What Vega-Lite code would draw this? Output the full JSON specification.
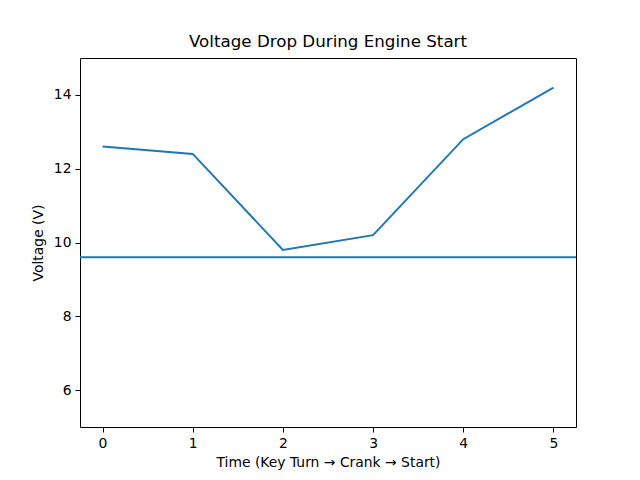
{
  "$schema": "https://vega.github.io/schema/vega-lite/v6.json",
  "width": 496,
  "height": 369,
  "autosize": {"type": "none"},
  "padding": {"left": 80, "top": 58, "right": 64, "bottom": 53},
  "background": "white",
  "title": {
    "text": "Voltage Drop During Engine Start",
    "font": "DejaVu Sans",
    "fontSize": 16.7,
    "fontWeight": "normal",
    "color": "black",
    "offset": 7,
    "anchor": "middle"
  },
  "config": {
    "view": {"stroke": "black", "strokeWidth": 1},
    "axis": {
      "grid": false,
      "domain": false,
      "tickColor": "black",
      "tickSize": 5,
      "tickWidth": 1,
      "labelFont": "DejaVu Sans",
      "labelFontSize": 13.9,
      "labelColor": "black",
      "labelPadding": 4,
      "titleFont": "DejaVu Sans",
      "titleFontSize": 13.9,
      "titleFontWeight": "normal",
      "titleColor": "black"
    }
  },
  "layer": [
    {
      "data": {
        "values": [
          {"time": 0, "voltage": 12.6},
          {"time": 1, "voltage": 12.4},
          {"time": 2, "voltage": 9.8},
          {"time": 3, "voltage": 10.2},
          {"time": 4, "voltage": 12.8},
          {"time": 5, "voltage": 14.2}
        ]
      },
      "mark": {"type": "line", "color": "#1f77b4", "strokeWidth": 2},
      "encoding": {
        "x": {
          "field": "time",
          "type": "quantitative",
          "scale": {"domain": [-0.25, 5.25], "nice": false, "zero": false},
          "axis": {"values": [0, 1, 2, 3, 4, 5], "title": "Time (Key Turn → Crank → Start)", "titlePadding": 6, "format": "d"}
        },
        "y": {
          "field": "voltage",
          "type": "quantitative",
          "scale": {"domain": [5, 15], "nice": false, "zero": false},
          "axis": {"values": [6, 8, 10, 12, 14], "title": "Voltage (V)", "titlePadding": 8, "format": "d"}
        }
      }
    },
    {
      "data": {"values": [{"threshold": 9.6}]},
      "mark": {"type": "rule", "color": "#1f77b4", "strokeWidth": 2},
      "encoding": {
        "y": {"field": "threshold", "type": "quantitative"}
      }
    }
  ]
}
